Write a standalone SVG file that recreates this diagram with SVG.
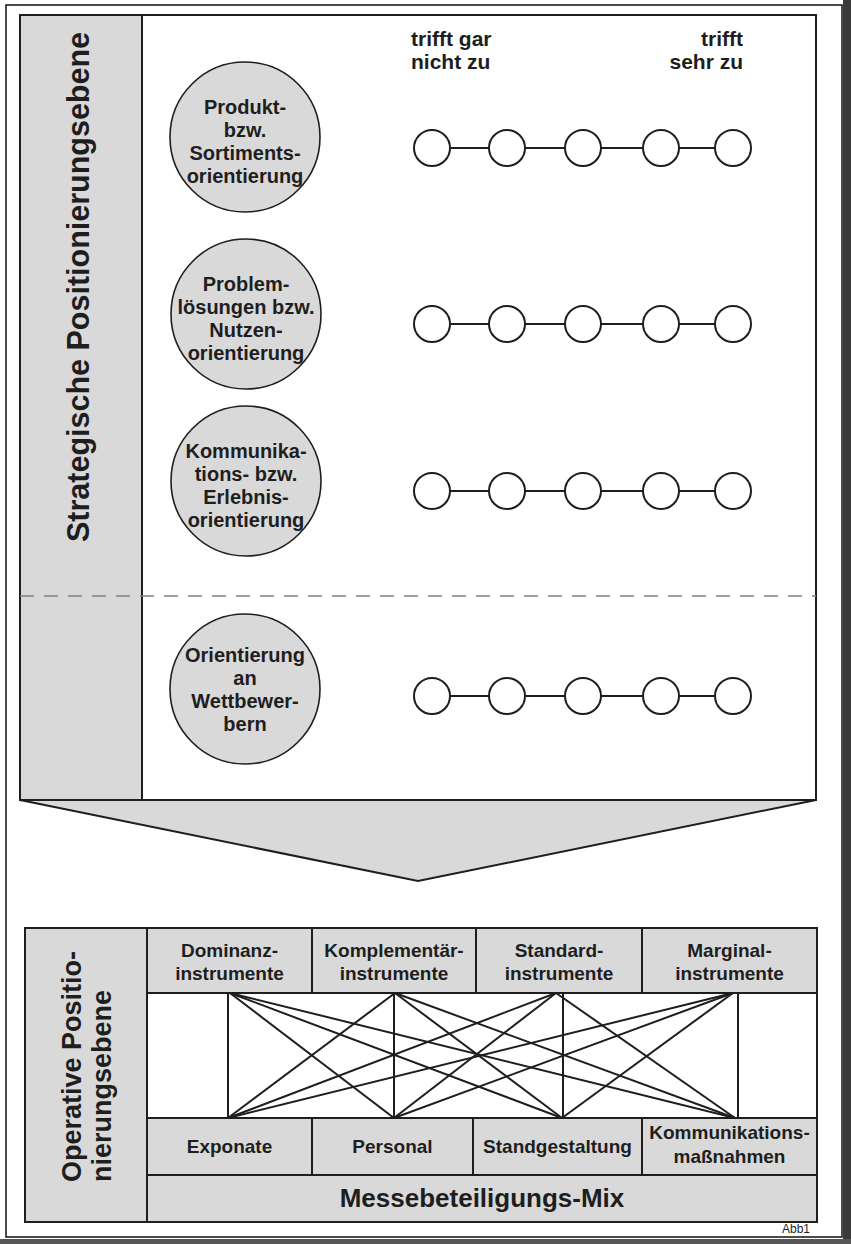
<svg xmlns="http://www.w3.org/2000/svg" width="851" height="1244" viewBox="0 0 851 1244">
<style>
.t{font-family:"Liberation Sans",Arial,Helvetica,sans-serif;font-weight:bold;fill:#1e1e1e}
.c{text-anchor:middle;font-size:19px}
.cc{text-anchor:middle;font-size:20px}
.gray{fill:#d9d9d9;stroke:#1e1e1e;stroke-width:2}
.big{fill:#d9d9d9;stroke:#1e1e1e;stroke-width:1.6}
.dot{fill:#fff;stroke:#1e1e1e;stroke-width:2}
.link{stroke:#1e1e1e;stroke-width:2;fill:none}
</style>
<rect x="0" y="0" width="851" height="1244" fill="#fff"/>
<g id="frame">
<rect x="6" y="5" width="836" height="1232" fill="none" stroke="#1e1e1e" stroke-width="1.6"/>
<rect x="843" y="0" width="8" height="1244" fill="#3a3a3a"/>
<rect x="0" y="1239" width="851" height="5" fill="#555"/>
</g>
<g id="strategic-panel">
<rect x="142" y="15" width="674" height="785" fill="#fff" stroke="#1e1e1e" stroke-width="2"/>
<rect x="20" y="15" width="122" height="785" class="gray"/>
<text class="t" font-size="32" text-anchor="middle" textLength="510" lengthAdjust="spacingAndGlyphs" transform="translate(89,287) rotate(-90)">Strategische Positionierungsebene</text>
<line x1="20" y1="596" x2="816" y2="596" stroke="#808080" stroke-width="1.5" stroke-dasharray="14 10"/>
</g>
<g id="scale-labels">
<text class="t" font-size="21" x="411" y="46">trifft gar</text>
<text class="t" font-size="21" x="411" y="69">nicht zu</text>
<text class="t" font-size="21" x="743" y="46" text-anchor="end">trifft</text>
<text class="t" font-size="21" x="743" y="69" text-anchor="end">sehr zu</text>
</g>
<g id="node-produkt">
<circle cx="245" cy="137" r="75" class="big"/>
<text class="t cc" x="245" y="114">Produkt-</text>
<text class="t cc" x="245" y="137">bzw.</text>
<text class="t cc" x="245" y="160">Sortiments-</text>
<text class="t cc" x="245" y="183">orientierung</text>
</g>
<g id="node-problem">
<circle cx="246" cy="314" r="75" class="big"/>
<text class="t cc" x="246" y="291">Problem-</text>
<text class="t cc" x="246" y="314">lösungen bzw.</text>
<text class="t cc" x="246" y="337">Nutzen-</text>
<text class="t cc" x="246" y="360">orientierung</text>
</g>
<g id="node-kommunikation">
<circle cx="246" cy="481" r="75" class="big"/>
<text class="t cc" x="246" y="458">Kommunika-</text>
<text class="t cc" x="246" y="481">tions- bzw.</text>
<text class="t cc" x="246" y="504">Erlebnis-</text>
<text class="t cc" x="246" y="527">orientierung</text>
</g>
<g id="node-wettbewerb">
<circle cx="245" cy="689" r="75" class="big"/>
<text class="t cc" x="245" y="662">Orientierung</text>
<text class="t cc" x="245" y="685">an</text>
<text class="t cc" x="245" y="708">Wettbewer-</text>
<text class="t cc" x="245" y="731">bern</text>
</g>
<g id="funnel">
<polygon points="20,800 816,800 418,881" fill="#d9d9d9" stroke="#1e1e1e" stroke-width="2" stroke-linejoin="miter"/>
</g>
<g id="operative-panel">
<rect x="25" y="928" width="792" height="294" fill="#fff" stroke="#1e1e1e" stroke-width="2"/>
<rect x="25" y="928" width="122" height="294" class="gray"/>
<text class="t" font-size="27" transform="translate(81,1182) rotate(-90)">Operative Positio-</text>
<text class="t" font-size="27" transform="translate(111,1182) rotate(-90)">nierungsebene</text>
</g>
<g id="node-dominanz">
<rect x="147" y="928" width="165" height="65" class="gray"/>
<text class="t c" x="229.5" y="957">Dominanz-</text>
<text class="t c" x="229.5" y="980">instrumente</text>
</g>
<g id="node-komplementaer">
<rect x="312" y="928" width="164" height="65" class="gray"/>
<text class="t c" x="394" y="957">Komplementär-</text>
<text class="t c" x="394" y="980">instrumente</text>
</g>
<g id="node-standard">
<rect x="476" y="928" width="166" height="65" class="gray"/>
<text class="t c" x="559" y="957">Standard-</text>
<text class="t c" x="559" y="980">instrumente</text>
</g>
<g id="node-marginal">
<rect x="642" y="928" width="175" height="65" class="gray"/>
<text class="t c" x="729.5" y="957">Marginal-</text>
<text class="t c" x="729.5" y="980">instrumente</text>
</g>
<g id="node-exponate">
<rect x="147" y="1118" width="165" height="57" class="gray"/>
<text class="t c" x="229.5" y="1153">Exponate</text>
</g>
<g id="node-personal">
<rect x="312" y="1118" width="161" height="57" class="gray"/>
<text class="t c" x="392.5" y="1153">Personal</text>
</g>
<g id="node-standgestaltung">
<rect x="473" y="1118" width="169" height="57" class="gray"/>
<text class="t c" x="557.5" y="1153">Standgestaltung</text>
</g>
<g id="node-kommunikationsmassnahmen">
<rect x="642" y="1118" width="175" height="57" class="gray"/>
<text class="t c" x="729.5" y="1139">Kommunikations-</text>
<text class="t c" x="729.5" y="1163">maßnahmen</text>
</g>
<g id="node-messe-mix">
<rect x="147" y="1175" width="670" height="47" class="gray"/>
<text class="t" font-size="26" text-anchor="middle" x="482" y="1207">Messebeteiligungs-Mix</text>
</g>
<g id="connectors">
<g class="link">
<line x1="228" y1="993" x2="228" y2="1118"/>
<line x1="394" y1="993" x2="394" y2="1118"/>
<line x1="563" y1="993" x2="563" y2="1118"/>
<line x1="738" y1="993" x2="738" y2="1118"/>
<line x1="230" y1="993" x2="394" y2="1118"/>
<line x1="230" y1="993" x2="562" y2="1118"/>
<line x1="230" y1="993" x2="735" y2="1118"/>
<line x1="395" y1="993" x2="228" y2="1118"/>
<line x1="395" y1="993" x2="562" y2="1118"/>
<line x1="395" y1="993" x2="735" y2="1118"/>
<line x1="556" y1="993" x2="228" y2="1118"/>
<line x1="556" y1="993" x2="394" y2="1118"/>
<line x1="556" y1="993" x2="735" y2="1118"/>
<line x1="733" y1="993" x2="228" y2="1118"/>
<line x1="733" y1="993" x2="394" y2="1118"/>
<line x1="733" y1="993" x2="562" y2="1118"/>
</g>
<g class="link">
<line x1="432" y1="148" x2="733" y2="148"/>
<line x1="432" y1="324" x2="733" y2="324"/>
<line x1="432" y1="491" x2="733" y2="491"/>
<line x1="432" y1="696" x2="733" y2="696"/>
</g>
</g>
<g id="scale-row-1">
<circle cx="432" cy="148" r="18" class="dot"/><circle cx="507" cy="148" r="18" class="dot"/><circle cx="583" cy="148" r="18" class="dot"/><circle cx="661" cy="148" r="18" class="dot"/><circle cx="733" cy="148" r="18" class="dot"/>
</g>
<g id="scale-row-2">
<circle cx="432" cy="324" r="18" class="dot"/><circle cx="507" cy="324" r="18" class="dot"/><circle cx="583" cy="324" r="18" class="dot"/><circle cx="661" cy="324" r="18" class="dot"/><circle cx="733" cy="324" r="18" class="dot"/>
</g>
<g id="scale-row-3">
<circle cx="432" cy="491" r="18" class="dot"/><circle cx="507" cy="491" r="18" class="dot"/><circle cx="583" cy="491" r="18" class="dot"/><circle cx="661" cy="491" r="18" class="dot"/><circle cx="733" cy="491" r="18" class="dot"/>
</g>
<g id="scale-row-4">
<circle cx="432" cy="696" r="18" class="dot"/><circle cx="507" cy="696" r="18" class="dot"/><circle cx="583" cy="696" r="18" class="dot"/><circle cx="661" cy="696" r="18" class="dot"/><circle cx="733" cy="696" r="18" class="dot"/>
</g>
<text x="810" y="1233" font-family="Liberation Sans, Arial, sans-serif" font-size="12" text-anchor="end" fill="#1e1e1e">Abb1</text>
</svg>
